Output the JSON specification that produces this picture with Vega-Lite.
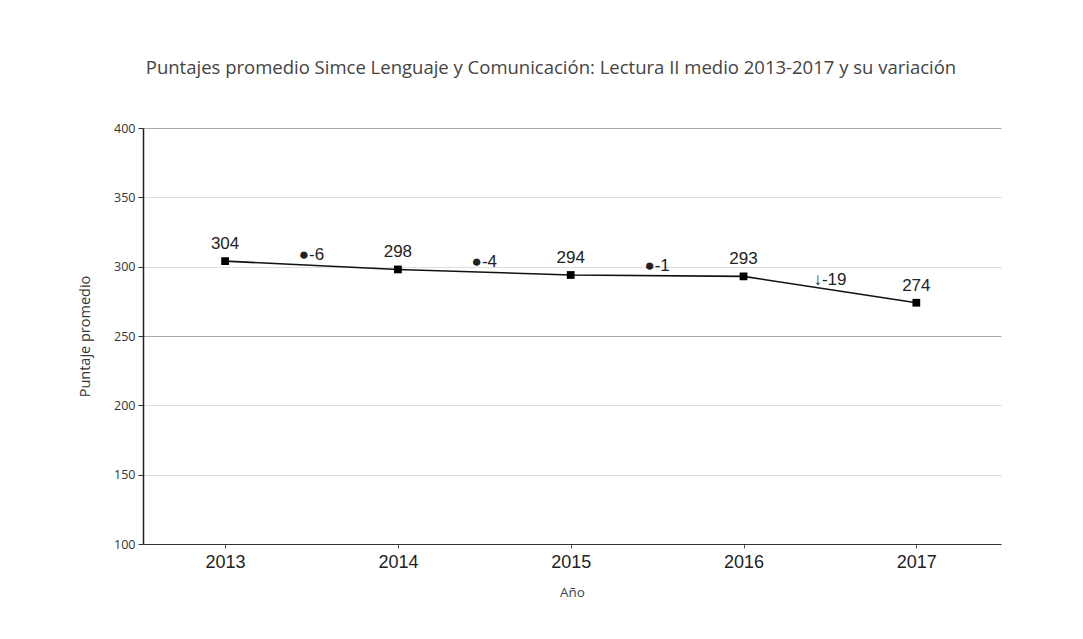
{
  "$schema": "https://vega.github.io/schema/vega-lite/v6.json",
  "width": 858,
  "height": 416,
  "autosize": {"type": "none"},
  "padding": {"left": 143, "top": 128, "right": 82, "bottom": 95},
  "background": "white",
  "config": {"view": {"stroke": null}},
  "title": {
    "text": "Puntajes promedio Simce Lenguaje y Comunicación: Lectura II medio 2013-2017 y su variación",
    "font": "Open Sans",
    "fontSize": 18.5,
    "fontWeight": "normal",
    "color": "#444444",
    "anchor": "middle",
    "dx": -21,
    "offset": 45
  },
  "datasets": {
    "puntajes": [
      {"anio": 2013, "puntaje": 304},
      {"anio": 2014, "puntaje": 298},
      {"anio": 2015, "puntaje": 294},
      {"anio": 2016, "puntaje": 293},
      {"anio": 2017, "puntaje": 274}
    ],
    "variacion": [
      {"anio": 2013.5, "medio": 301, "etiqueta": "●-6"},
      {"anio": 2014.5, "medio": 296, "etiqueta": "●-4"},
      {"anio": 2015.5, "medio": 293.5, "etiqueta": "●-1"},
      {"anio": 2016.5, "medio": 283.5, "etiqueta": "↓-19"}
    ]
  },
  "layer": [
    {
      "data": {"name": "puntajes"},
      "mark": {"type": "line", "color": "#111111", "strokeWidth": 1.6},
      "encoding": {
        "x": {
          "field": "anio",
          "type": "quantitative",
          "scale": {"domain": [2012.525, 2017.49], "nice": false, "zero": false},
          "axis": {
            "title": "Año",
            "titleFont": "Open Sans",
            "titleFontSize": 13.5,
            "titleFontWeight": "normal",
            "titleColor": "#444444",
            "titlePadding": 14,
            "values": [2013, 2014, 2015, 2016, 2017],
            "format": "d",
            "labelFont": "Liberation Sans",
            "labelFontSize": 18,
            "labelColor": "#222222",
            "labelPadding": 5,
            "domainColor": "#333333",
            "domainWidth": 1.2,
            "tickColor": "#555555",
            "tickSize": 4,
            "grid": false
          }
        },
        "y": {
          "field": "puntaje",
          "type": "quantitative",
          "scale": {"domain": [100, 400], "nice": false, "zero": false},
          "axis": {
            "title": "Puntaje promedio",
            "titleFont": "Open Sans",
            "titleFontSize": 14.5,
            "titleFontWeight": "normal",
            "titleColor": "#333333",
            "titlePadding": 21,
            "values": [100, 150, 200, 250, 300, 350, 400],
            "labelFont": "Open Sans",
            "labelFontSize": 12.5,
            "labelColor": "#333333",
            "labelPadding": 3,
            "domainColor": "#222222",
            "domainWidth": 1.5,
            "tickColor": "#333333",
            "tickSize": 5,
            "grid": true,
            "gridColor": {"condition": {"test": "datum.value === 250 || datum.value === 400", "value": "#a8a8a8"}, "value": "#dedede"},
            "gridWidth": 1.2
          }
        }
      }
    },
    {
      "data": {"name": "puntajes"},
      "mark": {"type": "square", "color": "#000000", "opacity": 1, "size": 60, "filled": true},
      "encoding": {
        "x": {"field": "anio", "type": "quantitative"},
        "y": {"field": "puntaje", "type": "quantitative"}
      }
    },
    {
      "data": {"name": "puntajes"},
      "mark": {"type": "text", "font": "Liberation Sans", "fontSize": 17, "color": "#222222", "baseline": "bottom", "dy": -8},
      "encoding": {
        "x": {"field": "anio", "type": "quantitative"},
        "y": {"field": "puntaje", "type": "quantitative"},
        "text": {"field": "puntaje", "type": "quantitative"}
      }
    },
    {
      "data": {"name": "variacion"},
      "mark": {"type": "text", "font": "Liberation Sans, DejaVu Sans", "fontSize": 17, "color": "#222222", "baseline": "middle", "align": "center", "dy": -10},
      "encoding": {
        "x": {"field": "anio", "type": "quantitative"},
        "y": {"field": "medio", "type": "quantitative"},
        "text": {"field": "etiqueta", "type": "nominal"}
      }
    }
  ]
}
